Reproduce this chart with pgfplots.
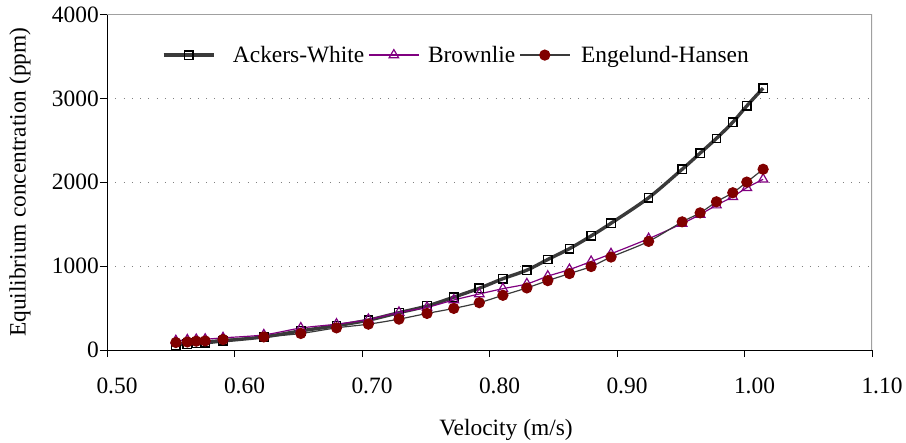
\documentclass[border=0pt]{standalone}
\usepackage{fontspec}
\setmainfont{Liberation Serif}
\usepackage{pgfplots}
\pgfplotsset{compat=1.18}
\definecolor{ackline}{HTML}{3A3A3A}
\definecolor{brown}{HTML}{800080}
\definecolor{engmark}{HTML}{800000}
\definecolor{frame}{HTML}{A0A0A0}
\begin{document}
\begin{tikzpicture}
\path[use as bounding box] (-107bp,-93bp) rectangle (799bp,350bp);
\begin{axis}[
  scale only axis,
  width=765bp, height=335.5bp,
  xmin=0.5, xmax=1.1, ymin=0, ymax=4000,
  axis x line*=bottom, axis y line*=left,
  axis line style={-, black, line width=0.9pt},
  xtick={0.5,0.6,0.7,0.8,0.9,1.0,1.1},
  ytick={0,1000,2000,3000,4000},
  tick align=outside, major tick length=7bp,
  tick style={black, line width=0.8pt},
  x tick label style={/pgf/number format/fixed, /pgf/number format/fixed zerofill, /pgf/number format/precision=2},
  y tick label style={/pgf/number format/fixed, /pgf/number format/1000 sep={}},
  /pgf/number format/assume math mode=true,
  tick label style={font=\fontsize{23.5}{27}\selectfont},
  xticklabel style={inner sep=0pt, anchor=north, yshift=-21bp, xshift=10bp},
  yticklabel style={inner sep=0pt, anchor=east, xshift=-1bp},
  ymajorgrids,
  grid style={gray, line width=0.6pt, dash pattern=on 0.8pt off 7.5pt},
  xlabel={Velocity (m/s)},
  ylabel={Equilibrium concentration (ppm)},
  label style={font=\fontsize{23.5}{27}\selectfont},
  x label style={at={(axis description cs:0.5216,0)}, anchor=center, yshift=-80bp},
  y label style={at={(axis description cs:-0.1137,0.5)}, anchor=center},
  legend columns=3,
  legend style={draw=none, fill=none, at={(0.0716,0.879)}, anchor=west,
    inner sep=0pt, font=\fontsize{23.5}{27}\selectfont,
    nodes={inner sep=0pt},
    /tikz/every odd column/.append style={column sep=8.6bp},
    /tikz/every even column/.append style={column sep=4bp}},
  legend image code/.code={\draw[mark repeat=2, mark phase=2, #1] plot coordinates {(0bp,0bp) (25bp,0bp) (50bp,0bp)};},
]
\addplot[draw=ackline, line width=3.4pt, smooth, tension=0.5,
  mark=square, mark size=4.2bp, mark options={draw=black, fill=none, line width=1.3pt, solid}]
coordinates {
(0.554,60) (0.563,72) (0.570,80) (0.577,85) (0.591,108) (0.623,156) (0.652,228)
(0.680,290) (0.705,356) (0.729,445) (0.751,524) (0.772,630) (0.792,736)
(0.8105,850) (0.8293,952) (0.8457,1079) (0.8627,1208) (0.8797,1360) (0.8953,1511)
(0.9248,1815) (0.9511,2155) (0.9652,2347) (0.978,2523) (0.9908,2715) (1.0018,2910) (1.0146,3122)
};
\addlegendentry{\hspace{9bp}Ackers-White}
\addplot[draw=brown, line width=1.2pt, smooth, tension=0.5,
  mark=triangle, mark size=5.5bp, mark options={draw=brown, fill=none, line width=1.2pt, solid}]
coordinates {
(0.554,110) (0.563,120) (0.570,125) (0.577,128) (0.591,145) (0.623,180) (0.652,262)
(0.680,308) (0.705,364) (0.729,448) (0.751,508) (0.772,596) (0.792,668)
(0.8105,731) (0.8293,788) (0.8457,880) (0.8627,959) (0.8797,1055) (0.8953,1147)
(0.9248,1327) (0.9511,1507) (0.9652,1615) (0.978,1727) (0.9908,1827) (1.0018,1935) (1.0146,2035)
};
\addlegendentry{Brownlie\hspace{4.4bp}}
\addplot[draw=ackline, line width=1.2pt, smooth, tension=0.5,
  mark=*, mark size=5bp, mark options={draw=engmark, fill=engmark, solid}]
coordinates {
(0.554,89) (0.563,96) (0.570,105) (0.577,108) (0.591,125) (0.623,156) (0.652,197)
(0.680,264) (0.705,308) (0.729,368) (0.751,436) (0.772,496) (0.792,564)
(0.8105,652) (0.8293,740) (0.8457,827) (0.8627,911) (0.8797,995) (0.8953,1108)
(0.9248,1295) (0.9511,1528) (0.9652,1635) (0.978,1767) (0.9908,1875) (1.0018,2002) (1.0146,2155)
};
\addlegendentry{\hspace{2.1bp}Engelund-Hansen}
\draw[frame, line width=1.2pt] (rel axis cs:0,1) -- (rel axis cs:1,1) -- (rel axis cs:1,0);
\end{axis}
\end{tikzpicture}
\end{document}
